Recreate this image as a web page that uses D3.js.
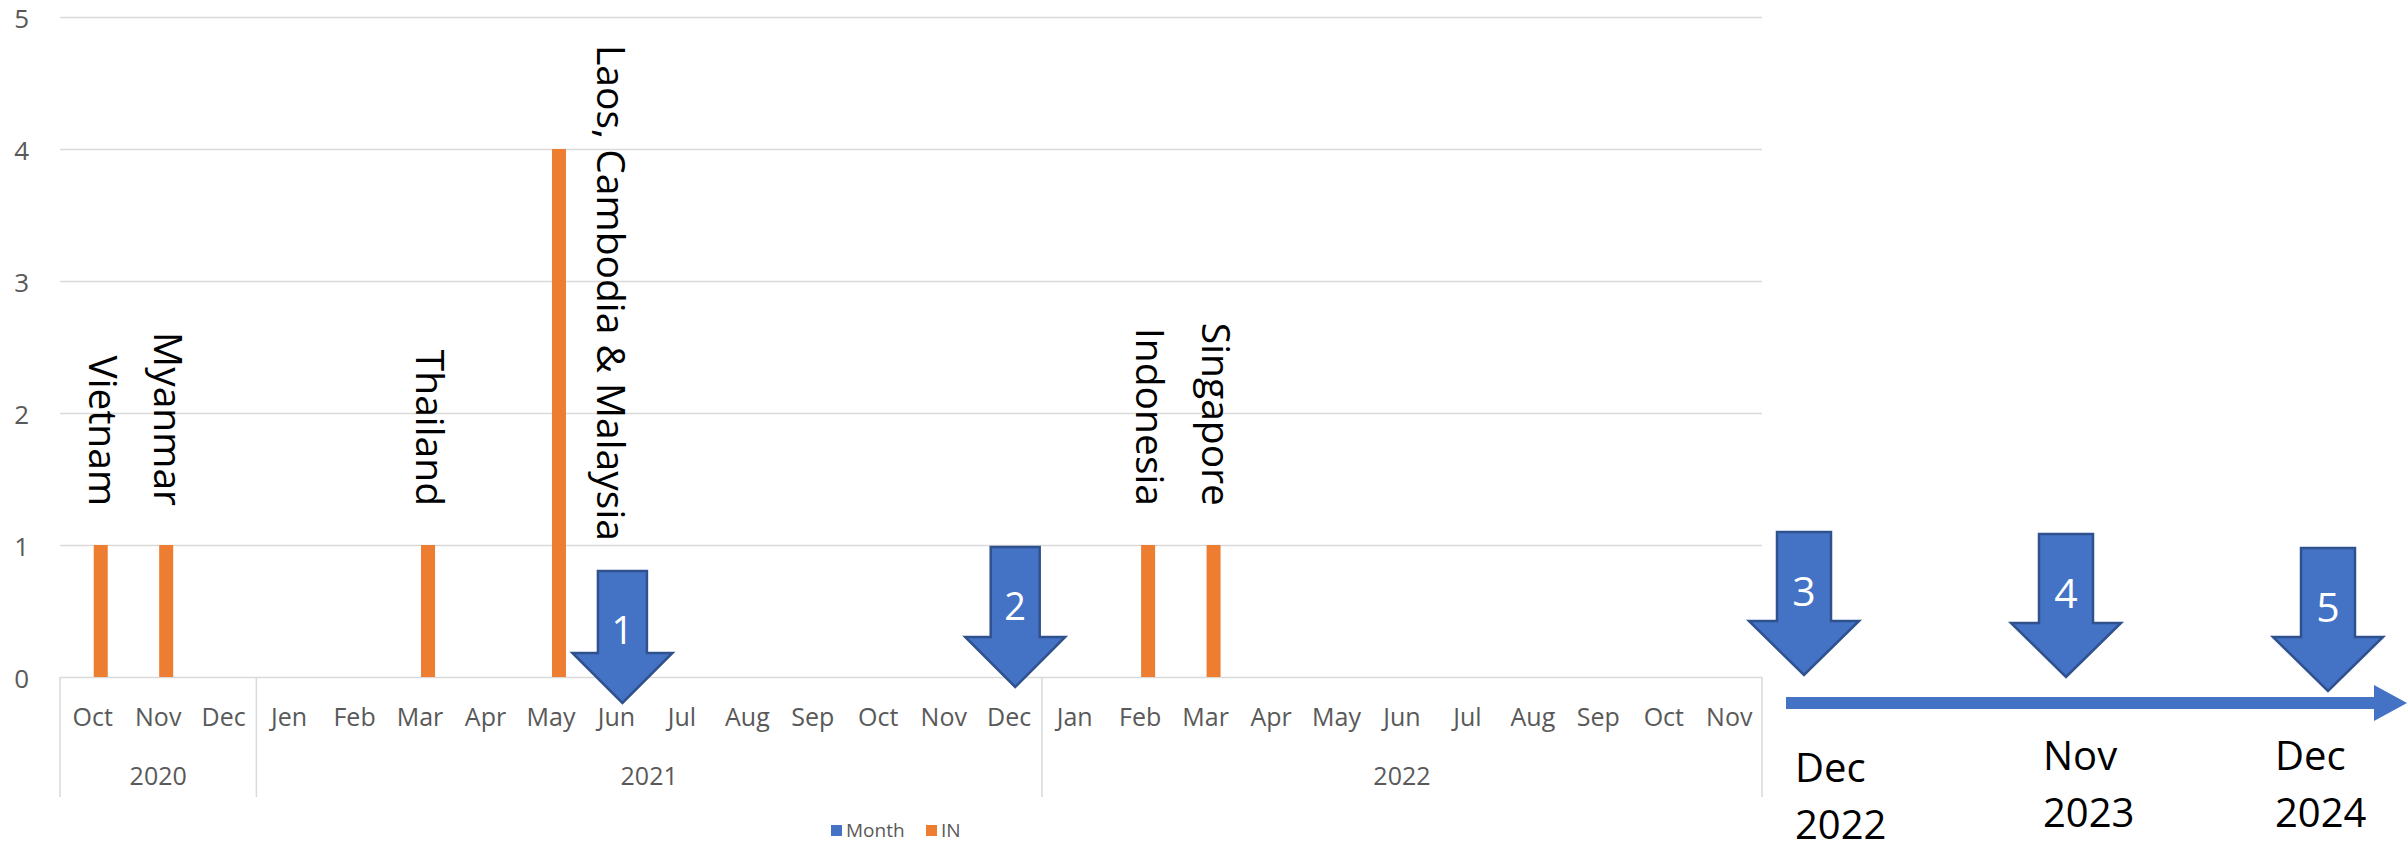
<!DOCTYPE html>
<html>
<head>
<meta charset="utf-8">
<script src="https://cdn.jsdelivr.net/npm/d3@7"></script>
<style>
    html, body { margin: 0; padding: 0; background: #fff; }
    svg { display: block; font-family: "Open Sans", sans-serif; }
</style>
</head>
<body>
<svg id="chart" width="2407" height="842"></svg>
<script>
// Categories (two-level axis: month / year)
const months = ["Oct", "Nov", "Dec",
    "Jen", "Feb", "Mar", "Apr", "May", "Jun", "Jul", "Aug", "Sep", "Oct", "Nov", "Dec",
    "Jan", "Feb", "Mar", "Apr", "May", "Jun", "Jul", "Aug", "Sep", "Oct", "Nov"];
const years = ["2020", "2020", "2020",
    "2021", "2021", "2021", "2021", "2021", "2021", "2021", "2021", "2021", "2021", "2021", "2021",
    "2022", "2022", "2022", "2022", "2022", "2022", "2022", "2022", "2022", "2022", "2022"];

// Series
const monthValues = [0, 0, 0, 0, 0, 0, 0, 0, 0, 0, 0, 0, 0, 0, 0, 0, 0, 0, 0, 0, 0, 0, 0, 0, 0, 0];
const inValues = [1, 1, 0, 0, 0, 1, 0, 4, 0, 0, 0, 0, 0, 0, 0, 0, 1, 1, 0, 0, 0, 0, 0, 0, 0, 0];
const inLabels = ["Vietnam", "Myanmar", "", "", "", "Thailand", "", "Laos, Cambodia & Malaysia",
    "", "", "", "", "", "", "", "", "Indonesia", "Singapore", "", "", "", "", "", "", "", ""];

const yTicks = [0, 1, 2, 3, 4, 5];

// Phase arrows inside the chart (category index) and on the future timeline
const phaseNumbers = ["1", "2"];
const phaseCategories = [8, 14];
const futureNumbers = ["3", "4", "5"];
const futureMonths = ["Dec", "Nov", "Dec"];
const futureYears = ["2022", "2023", "2024"];

const blue = "#4472C4", blueEdge = "#2F528F", orange = "#ED7D31", grey = "#595959", grid = "#d9d9d9";

const svg = d3.select("#chart");

const plotLeft = 60, plotRight = 1762, plotTop = 17, plotBottom = 677;

const x = d3.scaleBand()
    .domain(d3.range(months.length))
    .range([plotLeft, plotRight]);

const xSub = d3.scaleBand()
    .domain(["Month", "IN"])
    .range([x.bandwidth() / 2 - 13, x.bandwidth() / 2 + 15]);

const y = d3.scaleLinear()
    .domain([0, 5])
    .range([plotBottom, plotTop]);

// Gridlines
svg.append("g")
    .attr("transform", `translate(${plotLeft},0)`)
    .call(d3.axisLeft(y).tickValues(yTicks).tickSize(-(plotRight - plotLeft)).tickFormat(""))
    .call(g => g.select(".domain").remove())
    .selectAll("line")
    .attr("stroke", grid)
    .attr("stroke-width", 1.5);

// Y labels
svg.append("g")
    .attr("transform", "translate(29,0)")
    .call(d3.axisLeft(y).tickValues(yTicks).tickSize(0).tickPadding(0).tickFormat(d3.format("d")))
    .call(g => g.select(".domain").remove())
    .selectAll("text")
    .attr("dy", 10)
    .attr("font-family", "Open Sans")
    .attr("font-size", 26)
    .attr("fill", grey);

// Month labels
svg.append("g")
    .attr("transform", `translate(0,${plotBottom})`)
    .call(d3.axisBottom(x).tickSize(0).tickFormat(i => months[i]))
    .call(g => g.select(".domain").remove())
    .selectAll("text")
    .attr("y", 49)
    .attr("dy", 0)
    .attr("font-family", "Open Sans")
    .attr("font-size", 25)
    .attr("fill", grey);

// Year groups
const yearGroups = d3.groups(d3.range(months.length), i => years[i]);
const bounds = yearGroups.map(([, idx]) => x(idx[0])).concat([plotRight]);

svg.append("g")
    .selectAll("line")
    .data(bounds)
    .join("line")
    .attr("x1", d => d).attr("x2", d => d)
    .attr("y1", plotBottom).attr("y2", 797)
    .attr("stroke", grid)
    .attr("stroke-width", 1.5);

svg.append("g")
    .selectAll("text")
    .data(yearGroups)
    .join("text")
    .attr("x", ([, idx]) => (x(idx[0]) + x(idx[idx.length - 1]) + x.bandwidth()) / 2)
    .attr("y", 785)
    .attr("text-anchor", "middle")
    .attr("font-size", 25)
    .attr("fill", grey)
    .text(([yr]) => yr);

// Bars
svg.append("g")
    .selectAll("rect")
    .data(monthValues)
    .join("rect")
    .attr("x", (d, i) => x(i) + xSub("Month"))
    .attr("y", d => y(d))
    .attr("width", xSub.bandwidth())
    .attr("height", d => y(0) - y(d))
    .attr("fill", blue);

svg.append("g")
    .selectAll("rect")
    .data(inValues)
    .join("rect")
    .attr("x", (d, i) => x(i) + xSub("IN"))
    .attr("y", d => y(d))
    .attr("width", xSub.bandwidth())
    .attr("height", d => y(0) - y(d))
    .attr("fill", orange);

// Country labels (rotated, above bars; pushed beside the bar if they would leave the plot)
const labelG = svg.append("g");
inLabels.forEach((lab, i) => {
    if (!lab) return;
    const cx = x(i) + xSub("IN") + xSub.bandwidth() / 2;
    const t = labelG.append("text")
        .attr("font-size", 39)
        .attr("fill", "#000")
        .text(lab);
    const len = t.node().getComputedTextLength();
    let startY = y(inValues[i]) - 39 - len;
    let bx = cx - 12;
    if (startY < plotTop + 28) {
        startY = plotTop + 28;
        bx = cx + 38;
    }
    t.attr("transform", `translate(${bx},${startY}) rotate(90)`);
});

// Block arrow
function downArrow(g, tipX, tipY, shaftW, headW, headH, totalH, num, fontSize) {
    const top = tipY - totalH, hy = tipY - headH;
    const p = d3.path();
    p.moveTo(tipX - shaftW / 2, top);
    p.lineTo(tipX + shaftW / 2, top);
    p.lineTo(tipX + shaftW / 2, hy);
    p.lineTo(tipX + headW / 2, hy);
    p.lineTo(tipX, tipY);
    p.lineTo(tipX - headW / 2, hy);
    p.lineTo(tipX - shaftW / 2, hy);
    p.closePath();
    g.append("path")
        .attr("d", p.toString())
        .attr("fill", blue)
        .attr("stroke", blueEdge)
        .attr("stroke-width", 2.5)
        .attr("stroke-linejoin", "miter");
    g.append("text")
        .attr("x", tipX)
        .attr("y", top + 59)
        .attr("dy", "0.36em")
        .attr("text-anchor", "middle")
        .attr("font-size", fontSize)
        .attr("fill", "#fff")
        .text(num);
}

const arrowG = svg.append("g");
const chartArrowLayout = [{ drop: 26, len: 132 }, { drop: 10, len: 140 }];
phaseCategories.forEach((c, k) => {
    const tipX = x(c) + x.bandwidth() / 2 + 6;
    downArrow(arrowG, tipX, y(0) + chartArrowLayout[k].drop, 49, 100, 50,
        chartArrowLayout[k].len, phaseNumbers[k], 38);
});

// Future timeline
const timelineY = 703;
const tl = svg.append("g");
tl.append("rect")
    .attr("x", 1786).attr("y", timelineY - 6)
    .attr("width", 2374 - 1786).attr("height", 12)
    .attr("fill", blue);
tl.append("path")
    .attr("d", `M2374,${timelineY - 18}L2407,${timelineY}L2374,${timelineY + 18}Z`)
    .attr("fill", blue);

const tx = d3.scalePoint()
    .domain(futureYears.map((yr, k) => futureMonths[k] + " " + yr))
    .range([1804, 2328]);

const futureLayout = [
    { lift: 28, dx: -9, base: 782 },
    { lift: 26, dx: -23, base: 770 },
    { lift: 12, dx: -53, base: 770 }
];
tx.domain().forEach((key, k) => {
    const tipX = tx(key);
    downArrow(tl, tipX, timelineY - futureLayout[k].lift, 54, 110, 54, 143, futureNumbers[k], 41);
    const t = tl.append("text")
        .attr("x", tipX + futureLayout[k].dx)
        .attr("y", futureLayout[k].base)
        .attr("font-size", 40)
        .attr("fill", "#000");
    t.append("tspan").attr("x", tipX + futureLayout[k].dx).text(futureMonths[k]);
    t.append("tspan").attr("x", tipX + futureLayout[k].dx).attr("dy", 57).text(futureYears[k]);
});

// Legend
const legend = svg.append("g").attr("transform", "translate(831,825)");
const legendItems = [{ name: "Month", color: blue, x: 0 }, { name: "IN", color: orange, x: 95 }];
legendItems.forEach(it => {
    legend.append("rect").attr("x", it.x).attr("y", 0).attr("width", 11).attr("height", 11).attr("fill", it.color);
    legend.append("text").attr("x", it.x + 15).attr("y", 12)
        .attr("font-size", 19).attr("fill", grey).text(it.name);
});
</script>
</body>
</html>
